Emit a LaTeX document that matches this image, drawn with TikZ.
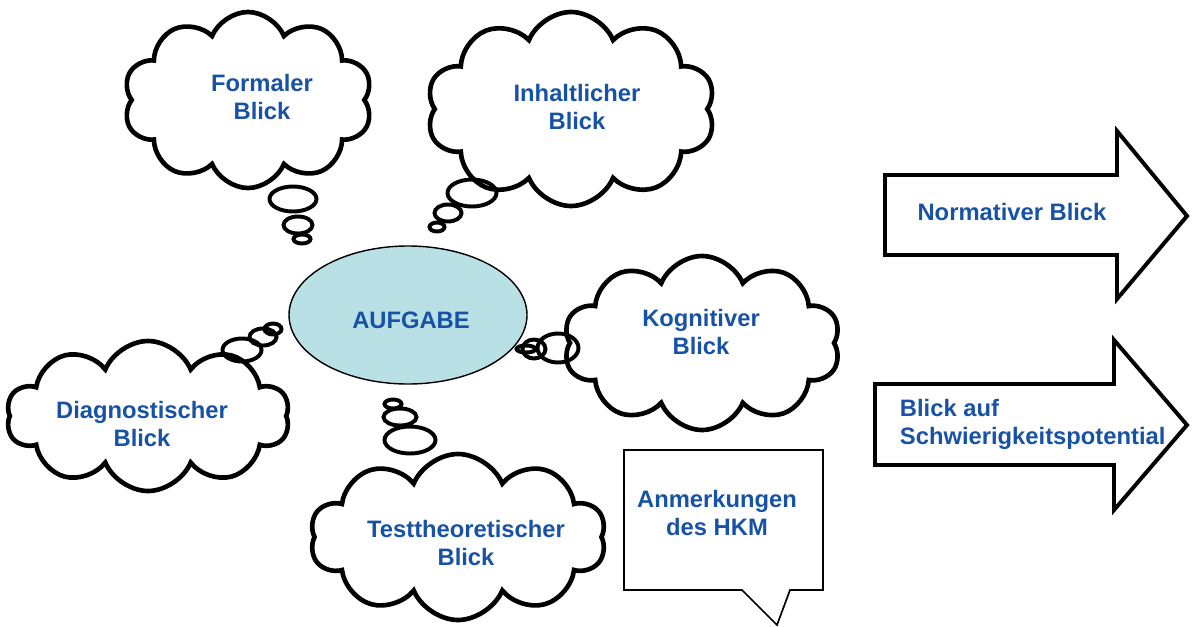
\documentclass[tikz,border=0pt]{standalone}
\usepackage{fontspec}
\setmainfont{Liberation Sans}
\usetikzlibrary{shapes.symbols,shapes.geometric}
\definecolor{blicktext}{RGB}{24,82,164}
\definecolor{aufgabefill}{RGB}{185,224,229}
\newcommand{\px}{0.025cm}

\begin{document}
\begin{tikzpicture}
	[x=\px,y=-\px,
	wolke/.style={cloud, cloud puffs=10, cloud puff arc=135, cloud ignores aspect, draw, line width=3.3pt, inner sep=0pt},
	blase/.style={ellipse, draw, line width=2.8pt, inner sep=0pt},
	blick/.style={text=blicktext, font=\fontsize{16.9}{19.9}\selectfont\bfseries, align=center},
	pfeil/.style={draw, line width=2.8pt, line join=miter}]
	\useasboundingbox (0,0) rectangle (1194,626);
	
	\node[ellipse, draw, line width=1pt, fill=aufgabefill, minimum width=238*\px, minimum height=138*\px] (aufgabe) at (408,315) {};
	\node[blick] (aufgabeT) at (411,320) {AUFGABE};
	
	\node[wolke, minimum width=249*\px, minimum height=176*\px] (formal) at (248,100) {};
	\node[wolke, minimum width=289*\px, minimum height=194*\px] (inhalt) at (571,109) {};
	\node[wolke, minimum width=277*\px, minimum height=174*\px] (kogn) at (702,343) {};
	\node[wolke, minimum width=283*\px, minimum height=150*\px] (diag) at (148,416) {};
	\node[wolke, minimum width=296*\px, minimum height=166*\px] (test) at (458,537) {};
	
	\node[blick] (formalT) at (262,97) {Formaler\\Blick};
	\node[blick] (inhaltT) at (577,107) {Inhaltlicher\\Blick};
	\node[blick] (kognT) at (701,332) {Kognitiver\\Blick};
	\node[blick] (diagT) at (142,424) {Diagnostischer\\Blick};
	\node[blick] (testT) at (466,543) {Testtheoretischer\\Blick};
	
	% Gedankenblasen
	\foreach \name/\x/\y/\w/\h in {f1/293/199/47/25, f2/298/225/29/17, f3/302/239/17/9,
		i1/472/193/49/27, i2/448/213/27/17, i3/437/227/15/9,
		k1/558/348/41/29, k2/534/349/23/19, k3/526/349/19/7,
		d1/242/350/39/23, d2/263/337/27/17, d3/273/329/17/11,
		t1/410/440/51/27, t2/400/417/33/17, t3/393/404/17/9}
	\node[blase, minimum width=\w*\px, minimum height=\h*\px] (\name) at (\x,\y) {};
	
	% Anmerkungen
	\draw[line width=1.2pt, line join=miter] (624,450) -- (823,450) -- (823,590) -- (790,590) -- (777,625) -- (742,590) -- (624,590) -- cycle;
	\node[blick] (hkm) at (717,513) {Anmerkungen\\des HKM};
	
	% Pfeile
	\draw[pfeil] (885,175) -- (1117,175) -- (1117,131) -- (1187,216) -- (1117,299) -- (1117,255) -- (885,255) -- cycle;
	\node[blick] (norm) at (1012,212) {Normativer Blick};
	\draw[pfeil] (875,384) -- (1114,384) -- (1114,340) -- (1187,425) -- (1114,510) -- (1114,465) -- (875,465) -- cycle;
	\node[blick, align=left, anchor=west] (schwier) at (895,424) {Blick auf\\Schwierigkeitspotential};
\end{tikzpicture}
\end{document}
